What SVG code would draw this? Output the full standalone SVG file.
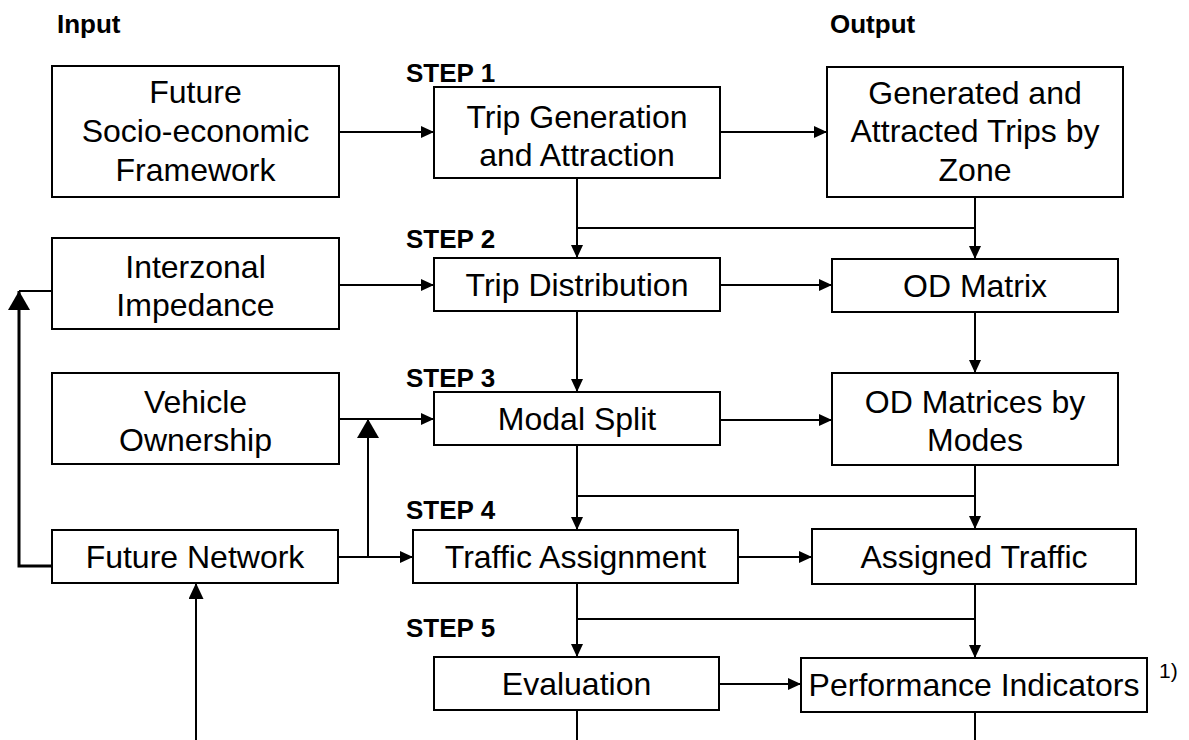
<svg xmlns="http://www.w3.org/2000/svg" width="1189" height="740" viewBox="0 0 1189 740">
<style>
.box{fill:#fff;stroke:#000;stroke-width:2}
.c{fill:none;stroke:#000;stroke-width:2}
.t{font-family:"Liberation Sans",Arial,sans-serif;font-size:32px;fill:#000;text-anchor:middle}
.h{font-family:"Liberation Sans",Arial,sans-serif;font-size:26px;font-weight:bold;fill:#000}
.n{font-family:"Liberation Sans",Arial,sans-serif;font-size:21px;fill:#000}
</style>
<defs>
<marker id="arr" markerUnits="userSpaceOnUse" markerWidth="13" markerHeight="12" refX="13" refY="6" orient="auto"><path d="M0,0 L13,6 L0,12 z" fill="#000"/></marker>
<marker id="big" markerUnits="userSpaceOnUse" markerWidth="19" markerHeight="22" refX="19" refY="11" orient="auto"><path d="M0,0 L19,11 L0,22 z" fill="#000"/></marker>
<marker id="mid" markerUnits="userSpaceOnUse" markerWidth="16" markerHeight="15" refX="16" refY="7.5" orient="auto"><path d="M0,0 L16,7.5 L0,15 z" fill="#000"/></marker>
</defs>
<rect width="1189" height="740" fill="#fff"/>

<g id="labels">
<text class="h" x="57" y="33">Input</text>
<text class="h" x="830" y="33">Output</text>
<text class="h" x="406" y="82">STEP 1</text>
<text class="h" x="406" y="248">STEP 2</text>
<text class="h" x="406" y="387">STEP 3</text>
<text class="h" x="406" y="519">STEP 4</text>
<text class="h" x="406" y="637">STEP 5</text>
<text class="n" x="1159" y="678">1)</text>
</g>

<g id="connectors">
<line class="c" x1="339" y1="132" x2="434" y2="132" marker-end="url(#arr)"/>
<line class="c" x1="720" y1="132" x2="827" y2="132" marker-end="url(#arr)"/>
<line class="c" x1="577" y1="178" x2="577" y2="258" marker-end="url(#arr)"/>
<line class="c" x1="577" y1="228" x2="975" y2="228"/>
<line class="c" x1="975" y1="197" x2="975" y2="259" marker-end="url(#arr)"/>
<line class="c" x1="339" y1="285" x2="434" y2="285" marker-end="url(#arr)"/>
<line class="c" x1="720" y1="285" x2="832" y2="285" marker-end="url(#arr)"/>
<line class="c" x1="577" y1="311" x2="577" y2="392" marker-end="url(#arr)"/>
<line class="c" x1="975" y1="312" x2="975" y2="373" marker-end="url(#arr)"/>
<line class="c" x1="339" y1="419" x2="434" y2="419" marker-end="url(#arr)"/>
<line class="c" x1="720" y1="420" x2="832" y2="420" marker-end="url(#arr)"/>
<line class="c" x1="577" y1="445" x2="577" y2="530" marker-end="url(#arr)"/>
<line class="c" x1="577" y1="496" x2="975" y2="496"/>
<line class="c" x1="975" y1="465" x2="975" y2="529" marker-end="url(#arr)"/>
<line class="c" x1="338" y1="557" x2="413" y2="557" marker-end="url(#arr)"/>
<line class="c" x1="368" y1="557" x2="368" y2="419" marker-end="url(#big)"/>
<line class="c" x1="738" y1="557" x2="812" y2="557" marker-end="url(#arr)"/>
<line class="c" x1="577" y1="583" x2="577" y2="657" marker-end="url(#arr)"/>
<line class="c" x1="577" y1="619" x2="975" y2="619"/>
<line class="c" x1="975" y1="584" x2="975" y2="658" marker-end="url(#arr)"/>
<line class="c" x1="719" y1="684" x2="801" y2="684" marker-end="url(#arr)"/>
<polyline class="c" points="52,566 19,566 19,291" style="stroke-width:3" marker-end="url(#big)"/>
<line class="c" x1="19" y1="291" x2="52" y2="291"/>
<line class="c" x1="196" y1="740" x2="196" y2="583" marker-end="url(#mid)"/>
<line class="c" x1="577" y1="710" x2="577" y2="740"/>
<line class="c" x1="975" y1="712" x2="975" y2="740"/>
</g>

<g id="future-socio">
<rect class="box" x="52" y="66" width="287" height="131"/>
<text class="t" x="195.5" y="103">Future</text>
<text class="t" x="195.5" y="142">Socio-economic</text>
<text class="t" x="195.5" y="181">Framework</text>
</g>
<g id="trip-generation">
<rect class="box" x="434" y="87" width="286" height="91"/>
<text class="t" x="577" y="128">Trip Generation</text>
<text class="t" x="577" y="166">and Attraction</text>
</g>
<g id="generated-trips">
<rect class="box" x="827" y="67" width="296" height="130"/>
<text class="t" x="975" y="104">Generated and</text>
<text class="t" x="975" y="142">Attracted Trips by</text>
<text class="t" x="975" y="181">Zone</text>
</g>
<g id="interzonal">
<rect class="box" x="52" y="238" width="287" height="91"/>
<text class="t" x="195.5" y="278">Interzonal</text>
<text class="t" x="195.5" y="316">Impedance</text>
</g>
<g id="trip-distribution">
<rect class="box" x="434" y="258" width="286" height="53"/>
<text class="t" x="577" y="296">Trip Distribution</text>
</g>
<g id="od-matrix">
<rect class="box" x="832" y="259" width="286" height="53"/>
<text class="t" x="975" y="297">OD Matrix</text>
</g>
<g id="vehicle-ownership">
<rect class="box" x="52" y="373" width="287" height="91"/>
<text class="t" x="195.5" y="413">Vehicle</text>
<text class="t" x="195.5" y="451">Ownership</text>
</g>
<g id="modal-split">
<rect class="box" x="434" y="392" width="286" height="53"/>
<text class="t" x="577" y="430">Modal Split</text>
</g>
<g id="od-matrices">
<rect class="box" x="832" y="373" width="286" height="92"/>
<text class="t" x="975" y="413">OD Matrices by</text>
<text class="t" x="975" y="451">Modes</text>
</g>
<g id="future-network">
<rect class="box" x="52" y="530" width="286" height="53"/>
<text class="t" x="195" y="568">Future Network</text>
</g>
<g id="traffic-assignment">
<rect class="box" x="413" y="530" width="325" height="53"/>
<text class="t" x="575.5" y="568">Traffic Assignment</text>
</g>
<g id="assigned-traffic">
<rect class="box" x="812" y="529" width="324" height="55"/>
<text class="t" x="974" y="568">Assigned Traffic</text>
</g>
<g id="evaluation">
<rect class="box" x="434" y="657" width="285" height="53"/>
<text class="t" x="576.5" y="695">Evaluation</text>
</g>
<g id="performance-indicators">
<rect class="box" x="801" y="658" width="346" height="54"/>
<text class="t" x="974" y="696">Performance Indicators</text>
</g>
</svg>
